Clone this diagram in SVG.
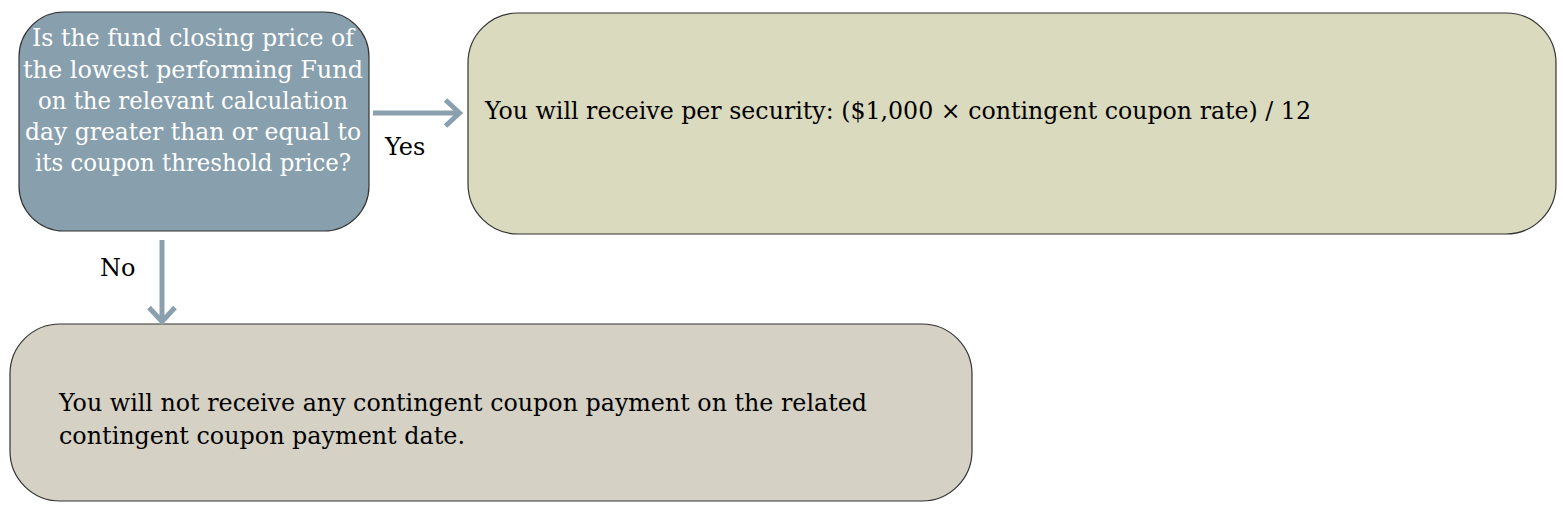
<svg xmlns="http://www.w3.org/2000/svg" width="1563" height="509" viewBox="0 0 1563 509">
<defs>
<style>
.t{font-family:"DejaVu Serif","Liberation Serif",serif;}
.q{font-size:25px;fill:#ffffff;text-anchor:middle;}
.b{font-size:24px;fill:#000000;}
.l{font-size:24px;fill:#000000;}
.conn{stroke:#8aa0ae;stroke-width:5;fill:none;}
.box{stroke:#333333;stroke-width:1.2;}
</style>
<marker id="ah" markerWidth="5" markerHeight="8" refX="3.6" refY="3.6" orient="auto" markerUnits="strokeWidth">
<path d="M0.7,1 L3.5,3.6 L0.7,6.2" fill="none" stroke="#8aa0ae" stroke-width="1"/>
</marker>
</defs>
<rect width="1563" height="509" fill="#ffffff"/>
<g id="node-question">
<rect class="box" x="19" y="12" width="350" height="219" rx="45" ry="45" fill="#889fae"/>
<text class="t q" x="193" y="46" textLength="322" lengthAdjust="spacingAndGlyphs">Is the fund closing price of</text>
<text class="t q" x="193" y="78" textLength="340" lengthAdjust="spacingAndGlyphs">the lowest performing Fund</text>
<text class="t q" x="193" y="109" textLength="310" lengthAdjust="spacingAndGlyphs">on the relevant calculation</text>
<text class="t q" x="193" y="140" textLength="336" lengthAdjust="spacingAndGlyphs">day greater than or equal to</text>
<text class="t q" x="193" y="171" textLength="316" lengthAdjust="spacingAndGlyphs">its coupon threshold price?</text>
</g>
<g id="node-yes">
<rect class="box" x="468" y="13" width="1088" height="221" rx="50" ry="50" fill="#dadabf"/>
<text class="t b" x="485" y="119" textLength="826" lengthAdjust="spacingAndGlyphs">You will receive per security: ($1,000 × contingent coupon rate) / 12</text>
</g>
<g id="node-no">
<rect class="box" x="10" y="324" width="962" height="177" rx="50" ry="50" fill="#d5d1c4"/>
<text class="t b" x="59" y="411" textLength="808" lengthAdjust="spacingAndGlyphs">You will not receive any contingent coupon payment on the related</text>
<text class="t b" x="59" y="444" textLength="406" lengthAdjust="spacingAndGlyphs">contingent coupon payment date.</text>
</g>
<g id="connectors">
<line class="conn" x1="373" y1="113" x2="460" y2="113" marker-end="url(#ah)"/>
<line class="conn" x1="162" y1="240" x2="162" y2="322" marker-end="url(#ah)"/>
<text class="t l" x="385" y="155">Yes</text>
<text class="t l" x="100" y="276">No</text>
</g>
</svg>
